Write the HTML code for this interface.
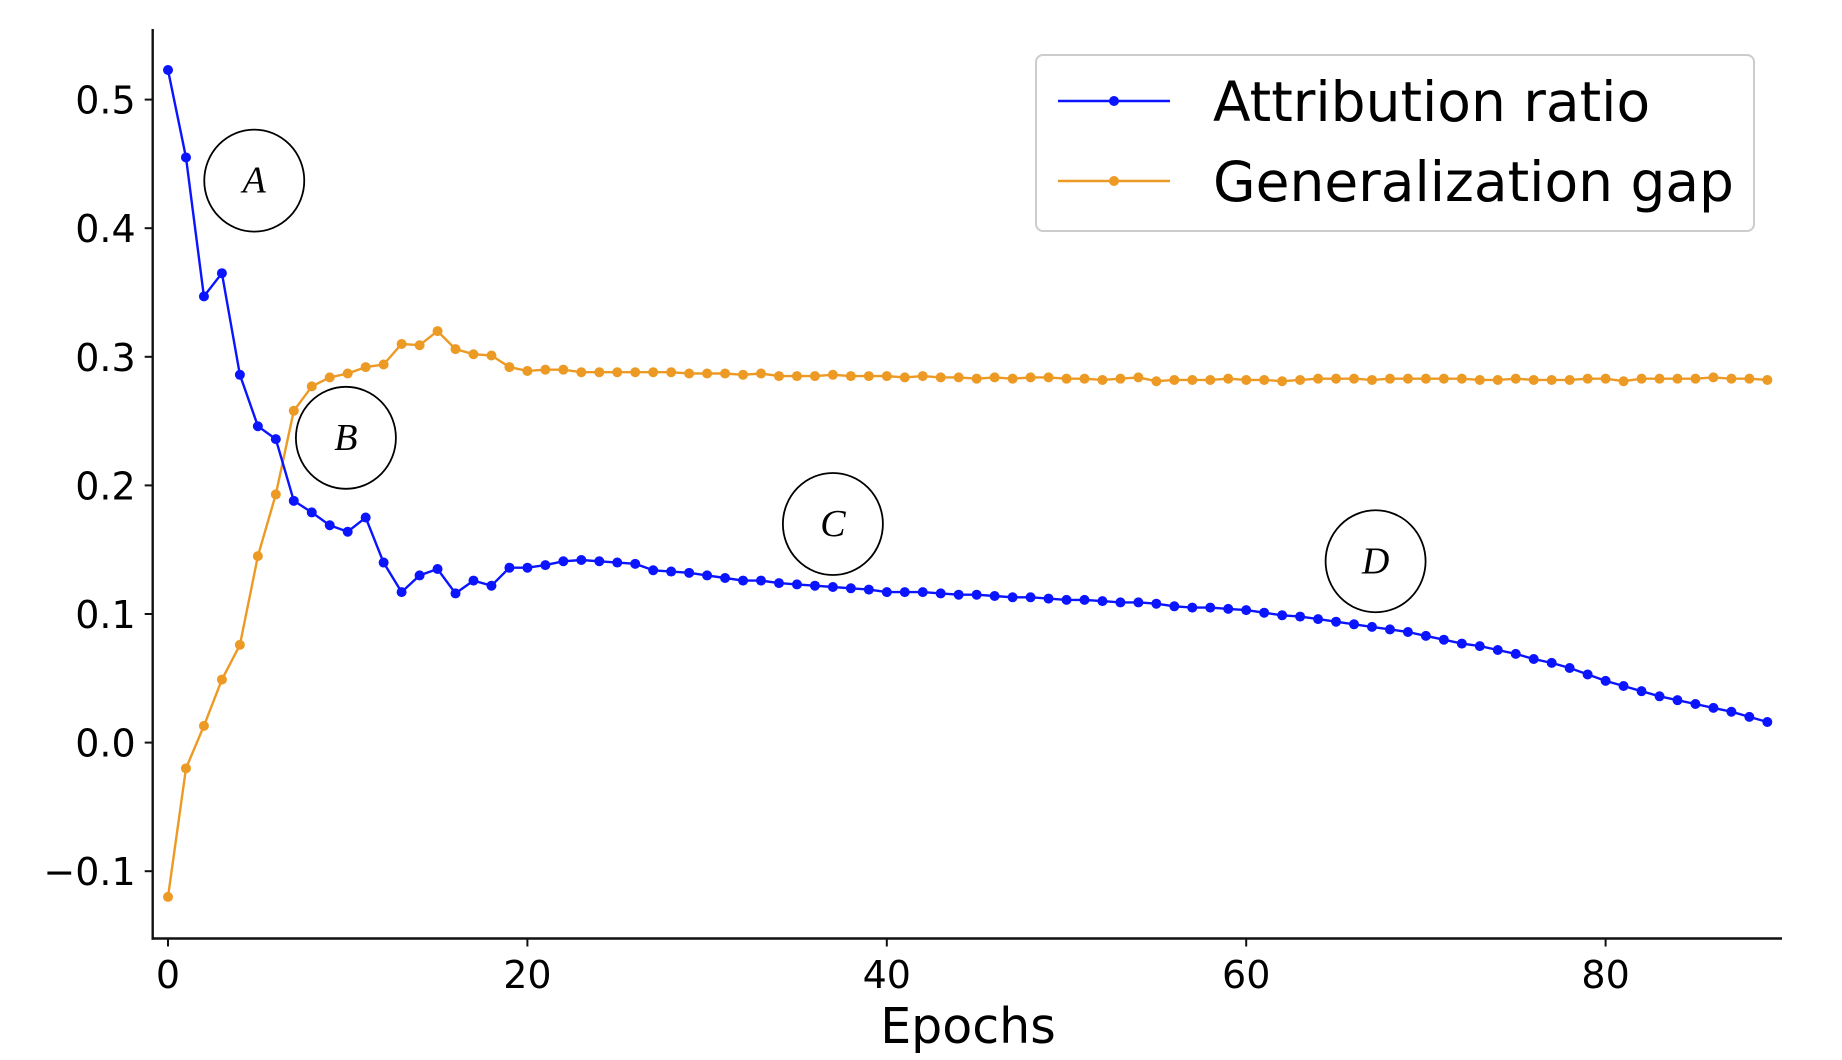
<!DOCTYPE html>
<html><head><meta charset="utf-8"><style>
html,body{margin:0;padding:0;background:#fff;}
svg{display:block;}
text{font-family:"DejaVu Sans","Liberation Sans",sans-serif;}
</style></head><body>
<svg id="chart" width="1842" height="1060" viewBox="0 0 1842 1060" xmlns="http://www.w3.org/2000/svg">
<g id="axes"></g>
<g id="series"></g>
<g id="annotations"></g>
<g id="legend"></g>
</svg>
<script>
const epochs = Array.from({length:90},(_,i)=>i);
const attributionRatio = [0.523,0.455,0.347,0.365,0.286,0.246,0.236,0.188,0.179,0.169,0.164,0.175,0.140,0.117,0.130,0.135,0.116,0.126,0.122,0.136,0.136,0.138,0.141,0.142,0.141,0.140,0.139,0.134,0.133,0.132,0.130,0.128,0.126,0.126,0.124,0.123,0.122,0.121,0.120,0.119,0.117,0.117,0.117,0.116,0.115,0.115,0.114,0.113,0.113,0.112,0.111,0.111,0.110,0.109,0.109,0.108,0.106,0.105,0.105,0.104,0.103,0.101,0.099,0.098,0.096,0.094,0.092,0.090,0.088,0.086,0.083,0.080,0.077,0.075,0.072,0.069,0.065,0.062,0.058,0.053,0.048,0.044,0.040,0.036,0.033,0.030,0.027,0.024,0.020,0.016];
const generalizationGap = [-0.120,-0.020,0.013,0.049,0.076,0.145,0.193,0.258,0.277,0.284,0.287,0.292,0.294,0.310,0.309,0.320,0.306,0.302,0.301,0.292,0.289,0.290,0.290,0.288,0.288,0.288,0.288,0.288,0.288,0.287,0.287,0.287,0.286,0.287,0.285,0.285,0.285,0.286,0.285,0.285,0.285,0.284,0.285,0.284,0.284,0.283,0.284,0.283,0.284,0.284,0.283,0.283,0.282,0.283,0.284,0.281,0.282,0.282,0.282,0.283,0.282,0.282,0.281,0.282,0.283,0.283,0.283,0.282,0.283,0.283,0.283,0.283,0.283,0.282,0.282,0.283,0.282,0.282,0.282,0.283,0.283,0.281,0.283,0.283,0.283,0.283,0.284,0.283,0.283,0.282];
const yTicks = [-0.1,0.0,0.1,0.2,0.3,0.4,0.5];
const yTickLabels = ["\u22120.1","0.0","0.1","0.2","0.3","0.4","0.5"];
const xTicks = [0,20,40,60,80];
const xTickLabels = ["0","20","40","60","80"];
const annoLabels = ["A","B","C","D"];
const annoX = [4.8,9.9,37.0,67.2];
const annoY = [0.437,0.237,0.170,0.141];

const NS="http://www.w3.org/2000/svg";
function xs(e){return 168+17.97*e;}
function ys(v){return 742.6-1286*v;}
function mk(tag,attrs,parent){const el=document.createElementNS(NS,tag);for(const k in attrs)el.setAttribute(k,attrs[k]);parent.appendChild(el);return el;}
const axes=document.getElementById('axes');
const L=152.7,B=938.5,T=29,R=1782;
let s=mk('line',{x1:L,y1:T,x2:L,y2:B+1.2,stroke:'#111','stroke-width':2.4},axes);


s=mk('line',{x1:L-1.2,y1:B,x2:R,y2:B,stroke:'#111','stroke-width':2.4},axes);


yTicks.forEach((v,i)=>{
  const y=ys(v);
  const t=mk('line',{x1:L-8,y1:y,x2:L,y2:y,stroke:'#111','stroke-width':2},axes);
  
  
  const lb=mk('text',{x:L-17,y:y+14,'text-anchor':'end','font-size':38,fill:'#000'},axes);
  lb.textContent=yTickLabels[i];
  
  
});
xTicks.forEach((v,i)=>{
  const x=xs(v);
  const t=mk('line',{x1:x,y1:B,x2:x,y2:B+8,stroke:'#111','stroke-width':2},axes);
  
  
  const lb=mk('text',{x:x,y:988,'text-anchor':'middle','font-size':38,fill:'#000'},axes);
  lb.textContent=xTickLabels[i];
  
  
});
const xt=mk('text',{x:968,y:1043,'text-anchor':'middle','font-size':49,fill:'#000'},axes);
xt.textContent='Epochs';



const series=document.getElementById('series');
function drawSeries(vals,color,name){
  const g=mk('g',{},series);
  
  
  const pts=vals.map((v,i)=>xs(epochs[i]).toFixed(1)+','+ys(v).toFixed(1)).join(' ');
  const pl=mk('polyline',{points:pts,fill:'none',stroke:color,'stroke-width':2.4,'stroke-linejoin':'round'},g);
  
  
  vals.forEach((v,i)=>{
    const c=mk('circle',{cx:xs(epochs[i]),cy:ys(v),r:5,fill:color},g);
    
    
  });
}
drawSeries(generalizationGap,'#ec9a24','generalization-gap-series');
drawSeries(attributionRatio,'#0a14ff','attribution-ratio-series');

const ann=document.getElementById('annotations');
annoLabels.forEach((lab,i)=>{
  const cx=xs(annoX[i]),cy=ys(annoY[i]);
  const g=mk('g',{},ann);
  
  
  mk('ellipse',{cx:cx,cy:cy,rx:50,ry:51,fill:'none',stroke:'#000','stroke-width':1.8},g);
  const t=mk('text',{x:cx,y:cy+12,'text-anchor':'middle','font-size':38,'font-style':'italic',fill:'#000',style:'font-family:"Liberation Serif",serif'},g);
  t.textContent=lab;
});

const lg=document.getElementById('legend');
const box=mk('rect',{x:1036,y:55,width:718,height:176,rx:7,fill:'#fff',stroke:'#cccccc','stroke-width':2},lg);


const entries=[['Attribution ratio','#0a14ff',101],['Generalization gap','#ec9a24',181]];
entries.forEach(([label,color,y])=>{
  const g=mk('g',{},lg);
  
  
  mk('line',{x1:1058,y1:y,x2:1170,y2:y,stroke:color,'stroke-width':2.4},g);
  mk('circle',{cx:1114,cy:y,r:5,fill:color},g);
  const t=mk('text',{x:1213,y:y+20,'font-size':55,fill:'#000'},g);
  t.textContent=label;
});
</script>
</body></html>
